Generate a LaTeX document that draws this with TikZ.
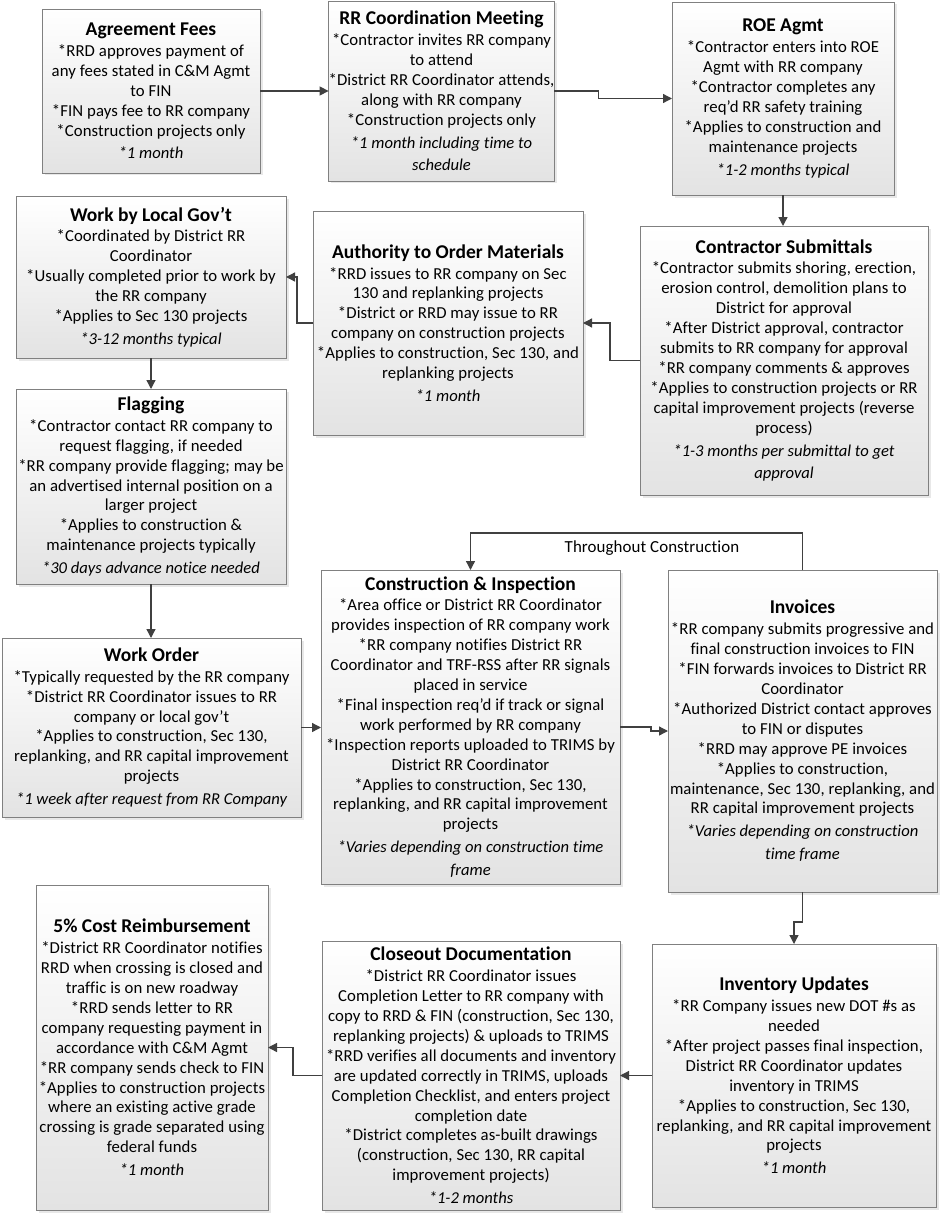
\documentclass[tikz,border=0pt]{standalone}
\usepackage{fontspec}
\setmainfont[Ligatures=NoCommon]{Carlito}
\newfontfamily\bodyfont[LetterSpace=0.5,Ligatures=NoCommon]{Carlito}
\usetikzlibrary{shadows,arrows.meta,calc}
\newcommand{\btitle}[1]{{\normalfont\bfseries\fontsize{19.5}{22}\selectfont #1}\\[1pt]}
\newcommand{\itx}[1]{{\normalfont\itshape\fontsize{16.6}{19.9}\selectfont #1}}
\begin{document}
\begin{tikzpicture}[x=1pt,y=-1pt]
\tikzset{
 box/.style={draw=black!50, line width=0.9pt, top color=white, bottom color=black!11,
   drop shadow={shadow xshift=2.5pt,shadow yshift=-2.5pt,fill=black!18},
   align=center, inner sep=0pt, outer sep=0pt, font=\bodyfont\fontsize{16.75}{19.9}\selectfont},
 conn/.style={draw=black!75, line width=1.3pt, -{Triangle[length=9pt,width=9pt]}},
 lbl/.style={font=\bodyfont\fontsize{16.9}{19.9}\selectfont, inner sep=0pt},
}
\useasboundingbox (0,0) rectangle (946,1217);

\node[box, minimum width=218pt, minimum height=164pt] (A) at (151,91) {\btitle{Agreement Fees}
*RRD approves payment of\\
any fees stated in C\&M Agmt\\
to FIN\\
*FIN pays fee to RR company\\
*Construction projects only\\[3pt]
\itx{*1 month}};

\node[box, minimum width=221pt, minimum height=180pt] (B) at (441.5,91) {\btitle{RR Coordination Meeting}
*Contractor invites RR company\\
to attend\\
*District RR Coordinator attends,\\
along with RR company\\
*Construction projects only\\[3pt]
\itx{*1 month including time to}\\[3pt]
\itx{schedule}};

\node[box, minimum width=222pt, minimum height=193pt] (C) at (783,98.5) {\btitle{ROE Agmt}
*Contractor enters into ROE\\
Agmt with RR company\\
*Contractor completes any\\
req’d RR safety training\\
*Applies to construction and\\
maintenance projects\\[3pt]
\itx{*1-2 months typical}};

\node[box, minimum width=288pt, minimum height=269pt] (D) at (784,360.5) {\btitle{Contractor Submittals}
*Contractor submits shoring, erection,\\
erosion control, demolition plans to\\
District for approval\\
*After District approval, contractor\\
submits to RR company for approval\\
*RR company comments \& approves\\
*Applies to construction projects or RR\\
capital improvement projects (reverse\\
process)\\[3pt]
\itx{*1-3 months per submittal to get}\\[3pt]
\itx{approval}};

\node[box, minimum width=270pt, minimum height=224pt] (E) at (448,323) {\btitle{Authority to Order Materials}
*RRD issues to RR company on Sec\\
130 and replanking projects\\
*District or RRD may issue to RR\\
company on construction projects\\
*Applies to construction, Sec 130, and\\
replanking projects\\[3pt]
\itx{*1 month}};

\node[box, minimum width=270pt, minimum height=162pt] (F) at (151,277) {\btitle{Work by Local Gov’t}
*Coordinated by District RR\\
Coordinator\\
*Usually completed prior to work by\\
the RR company\\
*Applies to Sec 130 projects\\[3pt]
\itx{*3-12 months typical}};

\node[box, minimum width=270pt, minimum height=195pt] (G) at (151,486.5) {\btitle{Flagging}
*Contractor contact RR company to\\
request flagging, if needed\\
*RR company provide flagging; may be\\
an advertised internal position on a\\
larger project\\
*Applies to construction \&\\
maintenance projects typically\\[3pt]
\itx{*30 days advance notice needed}};

\node[box, minimum width=299pt, minimum height=179pt] (H) at (151.5,727.5) {\btitle{Work Order}
*Typically requested by the RR company\\
*District RR Coordinator issues to RR\\
company or local gov’t\\
*Applies to construction, Sec 130,\\
replanking, and RR capital improvement\\
projects\\[3pt]
\itx{*1 week after request from RR Company}};

\node[box, minimum width=299pt, minimum height=314pt] (I) at (470.5,727) {\btitle{Construction \& Inspection}
*Area office or District RR Coordinator\\
provides inspection of RR company work\\
*RR company notifies District RR\\
Coordinator and TRF-RSS after RR signals\\
placed in service\\
*Final inspection req’d if track or signal\\
work performed by RR company\\
*Inspection reports uploaded to TRIMS by\\
District RR Coordinator\\
*Applies to construction, Sec 130,\\
replanking, and RR capital improvement\\
projects\\[3pt]
\itx{*Varies depending on construction time}\\[3pt]
\itx{frame}};

\node[box, minimum width=269pt, minimum height=322pt] (J) at (802.5,731) {\btitle{Invoices}
*RR company submits progressive and\\
final construction invoices to FIN\\
*FIN forwards invoices to District RR\\
Coordinator\\
*Authorized District contact approves\\
to FIN or disputes\\
*RRD may approve PE invoices\\
*Applies to construction,\\
maintenance, Sec 130, replanking, and\\
RR capital improvement projects\\[3pt]
\itx{*Varies depending on construction}\\[3pt]
\itx{time frame}};

\node[box, minimum width=284pt, minimum height=263pt] (K) at (794,1075.5) {\btitle{Inventory Updates}
*RR Company issues new DOT \#s as\\
needed\\
*After project passes final inspection,\\
District RR Coordinator updates\\
inventory in TRIMS\\
*Applies to construction, Sec 130,\\
replanking, and RR capital improvement\\
projects\\[3pt]
\itx{*1 month}};

\node[box, minimum width=298pt, minimum height=269pt] (L) at (471,1075.5) {\btitle{Closeout Documentation}
*District RR Coordinator issues\\
Completion Letter to RR company with\\
copy to RRD \& FIN (construction, Sec 130,\\
replanking projects) \& uploads to TRIMS\\
*RRD verifies all documents and inventory\\
are updated correctly in TRIMS, uploads\\
Completion Checklist, and enters project\\
completion date\\
*District completes as-built drawings\\
(construction, Sec 130, RR capital\\
improvement projects)\\[3pt]
\itx{*1-2 months}};

\node[box, minimum width=232pt, minimum height=325pt] (M) at (152,1047.5) {\btitle{5\% Cost Reimbursement}
*District RR Coordinator notifies\\
RRD when crossing is closed and\\
traffic is on new roadway\\
*RRD sends letter to RR\\
company requesting payment in\\
accordance with C\&M Agmt\\
*RR company sends check to FIN\\
*Applies to construction projects\\
where an existing active grade\\
crossing is grade separated using\\
federal funds\\[3pt]
\itx{*1 month}};

\node[lbl] (tc) at (652,548) {Throughout Construction};

% connectors
\draw[conn] (A.east) -- (B.west);
\draw[conn] (B.east) -- ++(44,0) |- (C.west);
\draw[conn] (C.south) -- (C.south |- D.north);
\draw[conn] (D.west) -- ++(-30,0) |- (E.east);
\draw[conn] (E.west) -- ++(-16,0) |- (F.east);
\draw[conn] (F.south) -- (G.north);
\draw[conn] (G.south) -- (G.south |- H.north);
\draw[conn] (H.east) -- (H.east -| I.west);
\draw[conn] (I.east) -- ++(31,0) |- (J.west);
\draw[conn] (J.north) -- ++(0,-37) -| (I.north);
\draw[conn] (J.south) -- ++(0,30) -| (K.north);
\draw[conn] (K.west) -- (L.east);
\draw[conn] (L.west) -- ++(-29,0) |- (M.east);
\end{tikzpicture}
\end{document}
